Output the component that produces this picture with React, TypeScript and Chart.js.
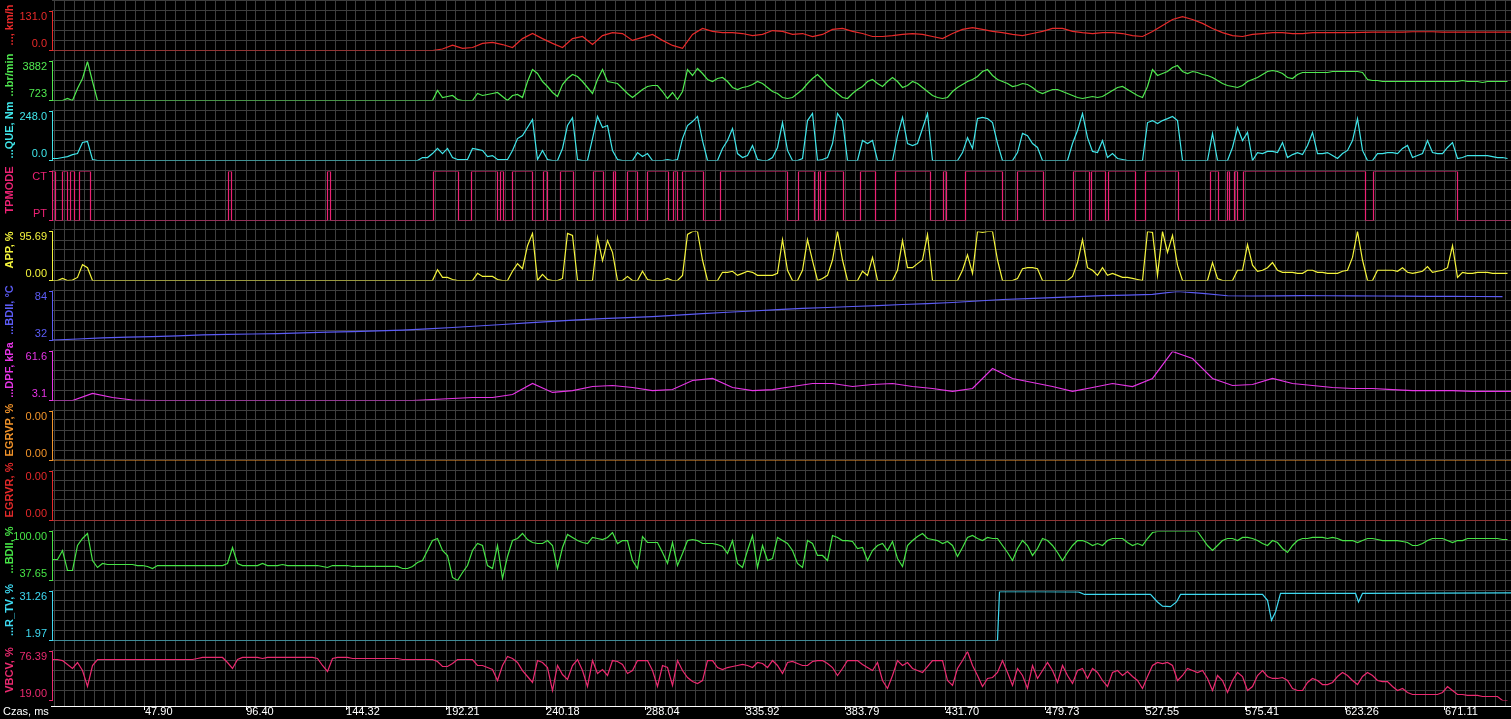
import React, { useEffect, useRef } from 'react';
import { Chart, registerables } from 'chart.js';

Chart.register(...registerables);

// ---------------- time axis ----------------
const T_START = 3.32;
const T_END = 702.76;
const GRID_STEP = 4.794; // one background grid cell, in time units
const GRID_FIRST = T_START + 1.438;
const X_TICK_LABELS = ['47.90', '96.40', '144.32', '192.21', '240.18', '288.04', '335.92', '383.79', '431.70', '479.73', '527.55', '575.41', '623.26', '671.11'];
const X_AXIS_TITLE = 'Czas, ms';

// sample periods of the recorded channels
const DT_FINE = 2.397;
const DT_10 = 4.794;
const DT_20 = 9.588;
const DT_25 = 11.985;

// ---------------- data ----------------
// vehicle speed, km/h (DT_10)
const speedKmh = [
  0, 0, 0, 0, 0, 0, 0, 0, 0, 0, 0, 0, 0, 0, 0, 0, 0, 0, 0, 0,
  0, 0, 0, 0, 0, 0, 0, 0, 0, 0, 0, 0, 0, 0, 0, 0, 0, 0, 0,
  5, 18, 7, 10, 24, 27, 20, 10, 40, 57, 40, 24, 10, 40, 47, 20, 50, 60, 57, 34, 44, 54, 34, 17, 7, 54, 74,
  64, 60, 60, 57, 50, 54, 67, 64, 54, 57, 47, 54, 71, 74, 64, 57, 47, 47, 50, 54, 57, 54, 47, 40, 57, 71, 77, 71, 64, 60,
  54, 50, 57, 64, 74, 74, 64, 60, 57, 60, 60, 57, 50, 47, 64, 84, 104, 114, 104, 91, 74, 60, 50, 47, 54, 57, 60, 60, 57, 57,
  60, 60, 60, 60, 60, 61, 62, 62, 62, 62, 63, 63, 63, 62, 62, 62, 62, 62, 62, 62, 62,
];

// engine speed, rpm (DT_FINE)
const engineRpm = [
  723, 723, 723, 885, 723, 1695, 2505, 3882, 2262, 723, 723, 723, 723, 723, 723, 723, 723, 723, 723, 723,
  723, 723, 723, 723, 723, 723, 723, 723, 723, 723, 723, 723, 723, 723, 723, 723, 723, 723, 723, 723,
  723, 723, 723, 723, 723, 723, 723, 723, 723, 723, 723, 723, 723, 723, 723, 723, 723, 723, 723, 723,
  723, 723, 723, 723, 723, 723, 723, 723, 723, 723, 723, 723, 723, 723, 723, 723, 723, 1533, 966, 1047,
  1128, 804, 723, 723, 723, 1290, 1128, 1209, 1290, 1371, 1047, 723, 1128, 1209, 966, 2262, 3234, 2910, 2262, 1857,
  1371, 1047, 2019, 2505, 2829, 2667, 2262, 1776, 1290, 2424, 3234, 2262, 2181, 2100, 1695, 1290, 966, 1290, 1614, 1857,
  1938, 1938, 1452, 885, 1371, 804, 1452, 3234, 2748, 3315, 2910, 2424, 2262, 2505, 2586, 2262, 1776, 1614, 1776, 1857,
  2019, 2262, 2100, 1776, 1452, 1290, 966, 885, 966, 1290, 1614, 2100, 2505, 2829, 2424, 1938, 1614, 1290, 966, 885,
  1290, 1614, 1857, 2262, 2424, 2100, 1857, 2262, 2586, 2262, 1776, 1938, 2262, 2100, 1776, 1452, 1128, 966, 885, 966,
  1452, 1776, 2019, 2262, 2424, 2667, 3072, 3234, 2748, 2424, 2262, 2100, 1857, 1938, 2100, 2019, 1776, 1452, 1290, 1452,
  1614, 1614, 1452, 1290, 1128, 966, 885, 966, 1047, 966, 1047, 1290, 1533, 1776, 1857, 1614, 1371, 1128, 966, 1857,
  3234, 2748, 2910, 3072, 3396, 3558, 3072, 2910, 3072, 2991, 2829, 2748, 2586, 2343, 2100, 1938, 1857, 1776, 1938, 2262,
  2424, 2586, 2829, 3072, 3153, 3072, 2910, 2586, 2505, 2829, 2991, 2991, 2991, 2991, 2991, 2991, 3072, 3072, 3072, 3072,
  3072, 3072, 2991, 2424, 2343, 2343, 2262, 2262, 2262, 2262, 2262, 2262, 2262, 2262, 2262, 2262, 2262, 2262, 2262, 2262,
  2262, 2262, 2343, 2262, 2262, 2262, 2181, 2262, 2262, 2262, 2262, 2262,
];

// engine torque, Nm (DT_FINE)
const torqueNm = [
  10, 10, 15, 20, 30, 35, 91, 96, 5, 0, 0, 0, 0, 0, 0, 0, 0, 0, 0, 0,
  0, 0, 0, 0, 0, 0, 0, 0, 0, 0, 0, 0, 0, 0, 0, 0, 0, 0, 0, 0,
  0, 0, 0, 0, 0, 0, 0, 0, 0, 0, 0, 0, 0, 0, 0, 0, 0, 0, 0, 0,
  0, 0, 0, 0, 0, 0, 0, 0, 0, 0, 0, 0, 0, 0, 15, 15, 35, 61, 35, 61,
  15, 5, 5, 5, 61, 56, 51, 20, 25, 5, 5, 5, 51, 111, 126, 167, 207, 5, 51, 5,
  0, 0, 61, 177, 217, 5, 0, 0, 111, 223, 167, 177, 51, 5, 0, 0, 0, 40, 20, 35,
  0, 0, 0, 5, 0, 5, 111, 177, 197, 223, 101, 0, 0, 0, 61, 101, 162, 35, 15, 25,
  76, 5, 0, 0, 15, 66, 192, 51, 0, 0, 10, 202, 238, 0, 5, 15, 86, 238, 202, 0,
  0, 0, 101, 86, 101, 0, 0, 0, 0, 126, 218, 86, 76, 86, 162, 238, 0, 0, 0, 0,
  0, 0, 40, 116, 61, 212, 218, 212, 192, 86, 0, 0, 0, 40, 137, 126, 86, 66, 0, 0,
  0, 0, 0, 0, 86, 152, 238, 116, 46, 40, 101, 15, 35, 10, 5, 0, 0, 0, 0, 192,
  202, 187, 202, 212, 223, 202, 0, 0, 0, 0, 0, 0, 137, 0, 0, 0, 66, 167, 101, 142,
  0, 40, 35, 46, 46, 40, 91, 15, 30, 40, 30, 76, 142, 35, 35, 40, 25, 10, 35, 51,
  101, 212, 51, 0, 0, 35, 35, 40, 40, 35, 61, 76, 15, 25, 35, 101, 40, 35, 35, 66,
  91, 10, 15, 25, 25, 25, 25, 25, 20, 15, 15, 10,
];

// torque path mode: 1 = CT, 0 = PT (change points)
const tpModeTimes = [
  3.32, 4.76, 8.11, 10.51, 11.95, 13.87, 16.26, 21.54, 87.69, 89.13, 135.15, 136.59, 185.97, 197.96, 204.19,
  216.65, 218.09, 219.53, 223.84, 233.43, 238.70, 240.62, 246.85, 253.09, 262.67, 267.47, 272.26, 273.22,
  278.97, 283.77, 288.56, 298.63, 301.03, 302.94, 305.34, 315.41, 323.56, 355.68, 360.95, 368.62, 370.54,
  371.50, 373.90, 382.52, 390.67, 397.87, 407.46, 424.23, 430.46, 431.90, 441.01, 458.75, 465.94, 478.40,
  492.79, 500.46, 501.42, 508.13, 509.57, 522.51, 527.30, 543.12, 558.46, 562.30, 566.61, 567.57, 569.97,
  571.41, 574.28, 632.77, 636.61, 676.88, 678.31, 702.76,
];
const tpModeValues = [
  0, 1, 0, 1, 0, 1, 0, 1, 0, 1, 0, 1, 0, 1, 0,
  1, 0, 1, 0, 1, 0, 1, 0, 1, 0, 1, 0, 1,
  0, 1, 0, 1, 0, 1, 0, 1, 0, 1, 0, 1, 0,
  1, 0, 1, 0, 1, 0, 1, 0, 1, 0, 1, 0, 1,
  0, 1, 0, 1, 0, 1, 0, 1, 0, 1, 0, 1, 0,
  1, 0, 1, 0, 1, 0, 0,
];

// accelerator pedal position, % (DT_FINE)
const appPct = [
  0, 0, 4, 0, 1, 6, 31, 25, 0, 0, 0, 0, 0, 0, 0, 0, 0, 0, 0, 0,
  0, 0, 0, 0, 0, 0, 0, 0, 0, 0, 0, 0, 0, 0, 0, 0, 0, 0, 0, 0,
  0, 0, 0, 0, 0, 0, 0, 0, 0, 0, 0, 0, 0, 0, 0, 0, 0, 0, 0, 0,
  0, 0, 0, 0, 0, 0, 0, 0, 0, 0, 0, 0, 0, 0, 0, 0, 0, 21, 6, 6,
  2, 0, 0, 0, 0, 14, 8, 8, 8, 2, 0, 0, 18, 33, 23, 68, 92, 0, 12, 2,
  0, 0, 4, 92, 88, 0, 0, 0, 0, 84, 39, 78, 55, 0, 0, 8, 0, 0, 18, 2,
  0, 0, 0, 4, 0, 0, 10, 90, 95.69, 95.69, 40, 0, 0, 0, 16, 16, 18, 10, 14, 18,
  16, 10, 10, 10, 10, 14, 80, 20, 0, 0, 20, 80, 39, 0, 4, 10, 40, 95.69, 40, 0,
  0, 0, 18, 10, 45, 0, 0, 0, 0, 20, 78, 25, 25, 33, 40, 90, 0, 0, 0, 0,
  0, 0, 20, 50, 14, 95.69, 94, 95.69, 95.69, 40, 0, 0, 0, 4, 23, 25, 25, 23, 0, 0,
  0, 0, 0, 0, 8, 35, 80, 25, 20, 10, 25, 10, 14, 10, 6, 6, 4, 2, 0, 95.69,
  94, 10, 95.69, 55, 88, 30, 0, 0, 0, 0, 0, 0, 35, 4, 0, 0, 0, 20, 20, 70,
  30, 18, 20, 25, 35, 20, 16, 16, 16, 14, 14, 20, 20, 16, 16, 14, 14, 14, 18, 20,
  45, 95.69, 40, 0, 0, 20, 20, 20, 20, 18, 25, 16, 14, 16, 18, 27, 16, 18, 20, 25,
  68, 6, 16, 14, 14, 16, 16, 16, 14, 14, 14, 14,
];

// coolant temperature, degC (DT_25)
const coolantC = [
  32.5, 33.6, 34.7, 35.5, 36.2, 37.0, 37.9, 38.4, 38.9, 39.4,
  40.0, 40.8, 41.5, 42.3, 43.1, 44.4, 45.8, 47.4, 49.0, 50.6,
  52.2, 53.8, 55.3, 56.3, 57.4, 59.0, 60.6, 62.0, 63.3, 64.7,
  66.0, 67.0, 68.1, 69.1, 70.2, 71.2, 72.3, 73.9, 75.5, 76.5,
  77.6, 78.6, 79.7, 80.2, 81.0, 84.0, 82.0, 79.5, 79.2, 79.4,
  79.6, 79.5, 79.4, 79.2, 79.0, 78.9, 78.8, 78.7, 78.6,
];

// DPF differential pressure, kPa (DT_20)
const dpfKpa = [
  3.1, 3.1, 11.5, 6.7, 3.7, 3.1, 3.1, 3.1, 3.1, 3.1,
  3.1, 3.1, 3.1, 3.1, 3.1, 3.1, 3.1, 3.1, 3.1, 4.3,
  5.5, 6.7, 6.7, 10.3, 23.4, 12.7, 15.0, 19.8, 21.0, 18.6,
  15.0, 16.2, 27.0, 29.4, 18.6, 15.0, 16.2, 19.8, 23.4, 23.4,
  19.8, 22.2, 23.4, 19.8, 17.4, 13.9, 17.4, 41.3, 29.4, 24.6,
  19.8, 13.9, 18.6, 23.4, 19.8, 29.4, 61.6, 53.2, 29.4, 21.0,
  22.2, 29.4, 23.4, 21.0, 18.6, 17.4, 17.4, 16.2, 15.0, 15.0,
  15.0, 13.9, 13.9, 13.9,
];

// EGR valve position / request, % (constant)
const egrTimes = [T_START, T_END];
const egrvpPct = [0, 0];
const egrvrPct = [0, 0];

// boost duty, % (DT_FINE)
const boostDutyPct = [
  64.4, 64.4, 75.8, 50.4, 50.4, 82.2, 91.1, 97.5, 63.1, 54.2, 59.3, 58.0, 58.0, 58.0, 58.0, 58.0, 58.0, 56.7, 56.7, 55.5,
  52.9, 56.7, 56.7, 56.7, 56.7, 56.7, 56.7, 56.7, 56.7, 56.7, 56.7, 56.7, 56.7, 56.7, 56.7, 59.3, 79.6, 59.3, 56.7, 56.7,
  56.7, 56.7, 59.3, 56.7, 56.7, 56.7, 58.0, 56.7, 56.7, 56.7, 56.7, 56.7, 56.7, 56.7, 55.5, 54.2, 56.7, 56.7, 56.7, 56.7,
  55.5, 55.5, 55.5, 55.5, 55.5, 55.5, 55.5, 55.5, 55.5, 55.5, 52.9, 52.9, 55.5, 60.6, 63.1, 75.8, 88.5, 91.1, 75.8, 69.5,
  41.5, 37.65, 47.8, 56.7, 75.8, 84.7, 82.2, 56.7, 52.9, 82.2, 40.2, 68.2, 88.5, 91.1, 97.5, 89.8, 86.0, 84.7, 84.7, 88.5,
  82.2, 52.9, 79.6, 96.2, 92.4, 88.5, 86.0, 84.7, 92.4, 91.1, 89.8, 92.4, 98.7, 84.7, 88.5, 88.5, 63.1, 52.9, 93.6, 86.0,
  86.0, 86.0, 73.3, 59.3, 86.0, 56.7, 72.0, 88.5, 89.8, 88.5, 84.7, 84.7, 84.7, 83.4, 80.9, 72.0, 88.5, 59.3, 54.2, 75.8,
  94.9, 54.2, 82.2, 63.1, 65.6, 92.4, 88.5, 84.7, 75.8, 59.3, 54.2, 88.5, 84.7, 69.5, 69.5, 63.1, 94.9, 92.4, 88.5, 88.5,
  87.3, 78.4, 79.6, 63.1, 75.8, 82.2, 84.7, 75.8, 87.3, 65.6, 55.5, 82.2, 88.5, 93.6, 97.5, 91.1, 89.8, 88.5, 84.7, 87.3,
  82.2, 68.2, 79.6, 92.4, 94.9, 91.1, 88.5, 92.4, 91.1, 91.1, 82.2, 73.3, 63.1, 78.4, 88.5, 82.2, 69.5, 78.4, 91.1, 88.5,
  82.2, 73.3, 63.1, 73.3, 82.2, 88.5, 88.5, 86.0, 82.2, 84.7, 82.2, 88.5, 91.1, 91.1, 91.1, 86.0, 82.2, 84.7, 82.2, 91.1,
  98.7, 100, 100, 100, 100, 100, 100, 100, 100, 100, 91.1, 82.2, 75.8, 82.2, 88.5, 91.1, 91.1, 88.5, 92.4, 92.4,
  91.1, 88.5, 84.7, 82.2, 88.5, 86.0, 78.4, 73.3, 82.2, 88.5, 91.1, 91.1, 92.4, 92.4, 92.4, 91.1, 92.4, 91.1, 88.5, 88.5,
  88.5, 86.0, 88.5, 91.1, 91.1, 89.8, 88.5, 88.5, 88.5, 88.5, 87.3, 86.0, 82.2, 82.2, 84.7, 88.5, 91.1, 91.1, 91.1, 88.5,
  86.0, 88.5, 88.5, 91.1, 91.1, 91.1, 91.1, 91.1, 91.1, 91.1, 89.8, 89.8,
];

// turbo vane position, % (change points)
const rtvTimes = [3.32, 456.35, 457.31, 495.18, 498.06, 529.70, 533.06, 535.45, 539.29, 542.17, 544.08, 583.39, 585.79, 587.71, 589.62, 592.02, 627.98, 629.42, 631.33, 702.76];
const rtvPct = [1.97, 1.97, 31.26, 31.0, 29.5, 29.5, 25.0, 22.5, 22.2, 25.0, 29.5, 29.5, 26.0, 14.0, 19.0, 30.1, 30.1, 25.0, 30.1, 30.4];

// bypass control valve, % (DT_FINE)
const vbcvPct = [
  67.0, 67.0, 65.8, 61.2, 56.5, 63.5, 54.1, 35.4, 60.0, 67.0, 67.0, 67.0, 67.0, 67.0, 67.0, 67.0, 67.0, 67.0, 67.0, 67.0,
  67.0, 67.0, 67.0, 67.0, 67.0, 67.0, 67.0, 67.0, 67.0, 68.2, 69.4, 69.4, 69.4, 69.4, 69.4, 63.5, 56.5, 67.0, 69.4, 69.4,
  69.4, 69.4, 68.2, 69.4, 69.4, 69.4, 69.4, 69.4, 69.4, 69.4, 69.4, 69.4, 69.4, 68.2, 60.0, 53.0, 68.2, 69.4, 69.4, 69.4,
  68.2, 68.2, 68.2, 68.2, 68.2, 68.2, 68.2, 68.2, 68.2, 68.2, 67.0, 67.0, 67.0, 67.0, 67.0, 67.0, 67.0, 64.7, 58.8, 58.8,
  62.3, 67.0, 67.0, 67.0, 67.0, 60.0, 60.0, 57.6, 55.3, 42.4, 60.0, 70.5, 68.2, 63.5, 54.1, 47.1, 40.1, 65.8, 63.5, 57.6,
  30.7, 60.0, 49.4, 43.6, 60.0, 67.0, 54.1, 35.4, 65.8, 50.6, 55.3, 48.3, 65.8, 64.7, 61.2, 50.6, 54.1, 65.8, 65.8, 65.8,
  54.1, 35.4, 60.0, 57.6, 36.6, 65.8, 54.1, 45.9, 41.2, 38.9, 42.4, 65.8, 65.8, 57.6, 55.3, 57.6, 58.8, 60.0, 61.2, 60.0,
  57.6, 63.5, 62.3, 57.6, 65.8, 60.0, 50.6, 63.5, 64.7, 62.3, 60.0, 60.0, 64.7, 65.8, 65.8, 62.3, 57.6, 48.3, 56.5, 65.8,
  65.8, 65.8, 61.2, 57.6, 54.1, 63.5, 42.4, 33.1, 48.3, 65.8, 60.0, 63.5, 56.5, 54.1, 51.8, 58.8, 65.8, 65.8, 65.8, 42.4,
  36.6, 56.5, 65.8, 76.39, 60.0, 48.3, 35.4, 44.8, 45.9, 51.8, 65.8, 51.8, 36.6, 56.5, 48.3, 33.1, 60.0, 44.8, 54.1, 63.5,
  54.1, 40.1, 60.0, 48.3, 38.9, 54.1, 56.5, 44.8, 56.5, 51.8, 42.4, 35.4, 51.8, 54.1, 48.3, 52.9, 47.1, 42.4, 33.1, 47.1,
  60.0, 63.5, 62.3, 63.5, 60.0, 42.4, 48.3, 56.5, 54.1, 51.8, 54.1, 44.8, 30.7, 48.3, 42.4, 28.4, 42.4, 51.8, 47.1, 30.7,
  35.4, 48.3, 54.1, 47.1, 44.8, 44.8, 45.9, 42.4, 33.1, 30.7, 30.7, 40.1, 44.8, 42.4, 37.7, 37.7, 40.1, 47.1, 51.8, 48.3,
  42.4, 37.7, 47.1, 51.8, 48.3, 42.4, 41.2, 41.2, 35.4, 30.7, 33.1, 28.4, 26.0, 26.0, 26.0, 26.0, 26.0, 26.0, 28.4, 35.4,
  30.7, 26.0, 26.0, 24.9, 24.9, 24.9, 23.7, 23.7, 23.7, 23.7, 19.0, 19.0,
];

// ---------------- panels ----------------
const PANEL_TITLES = ['..., km/h', '...br/min', '...QUE, Nm', 'TPMODE', 'APP, %', '...BDII, °C', '...DPF, kPa', 'EGRVP, %', 'EGRVR, %', '...BDII, %', '...R_TV, %', 'VBCV, %'];
const AXIS_MIN = [0, 723, 0, 0, 0, 32, 3.1, 0, 0, 37.65, 1.97, 19];
const AXIS_MAX = [131, 3882, 248, 1, 95.69, 84, 61.6, 0, 0, 100, 31.26, 76.39];
const AXIS_DECIMALS = [1, 0, 1, 0, 2, 0, 1, 2, 2, 2, 2, 2];
const TPMODE_STATES = ['PT', 'CT'];

const PANEL_COLORS = ['#e82a2a', '#50ea50', '#40e6ea', '#ec2274', '#f4f43c', '#5c5cf6', '#e634e6', '#f4942a', '#e62a2a', '#46e446', '#3edaf2', '#ec2a70'];
const PANEL_HEIGHTS = [39, 39, 49, 49, 49, 49, 49, 49, 49, 49, 49, 49];
const PANEL_GAP = 11;
const BOTTOM_GAP = 6;
const GRID_COLOR = '#3e3e3e';
const FONT = 'Liberation Sans';

const uniform = (vals: number[], step: number) => vals.map((v, i) => ({ x: T_START + i * step, y: v }));
const paired = (ts: number[], vs: number[]) => ts.map((t, i) => ({ x: t, y: vs[i] }));

const SERIES = [
  uniform(speedKmh, DT_10),
  uniform(engineRpm, DT_FINE),
  uniform(torqueNm, DT_FINE),
  paired(tpModeTimes, tpModeValues),
  uniform(appPct, DT_FINE),
  uniform(coolantC, DT_25),
  uniform(dpfKpa, DT_20),
  paired(egrTimes, egrvpPct),
  paired(egrTimes, egrvrPct),
  uniform(boostDutyPct, DT_FINE),
  paired(rtvTimes, rtvPct),
  uniform(vbcvPct, DT_FINE),
];

function axisLabel(i: number, which: 0 | 1): string {
  if (i === 3) return TPMODE_STATES[which];
  const v = which === 0 ? AXIS_MIN[i] : AXIS_MAX[i];
  return v.toFixed(AXIS_DECIMALS[i]);
}

function buildScales() {
  const scales: any = {};
  scales.x = {
    type: 'linear',
    position: 'bottom',
    min: T_START,
    max: T_END,
    afterBuildTicks: (s: any) => {
      const labelled = X_TICK_LABELS.map((l) => ({ value: Number(l), lab: l }));
      const ticks: any[] = [];
      for (let t = GRID_FIRST; t <= T_END; t += GRID_STEP) {
        if (labelled.some((l) => Math.abs(l.value - t) < GRID_STEP / 2)) continue;
        ticks.push({ value: t });
      }
      s.ticks = ticks.concat(labelled).sort((a, b) => a.value - b.value);
    },
    afterFit: (s: any) => {
      s.height = 13;
      s.paddingLeft = 0;
      s.paddingRight = 0;
    },
    ticks: {
      autoSkip: false,
      maxRotation: 0,
      minRotation: 0,
      align: 'start',
      color: '#ffffff',
      padding: -5,
      font: { family: FONT, size: 11 },
      callback: (_v: any, i: number, ticks: any[]) => ticks[i].lab || '',
    },
    grid: {
      color: GRID_COLOR,
      drawTicks: true,
      tickLength: 4,
      tickColor: (ctx: any) => (ctx.tick && ctx.tick.lab ? '#ffffff' : 'rgba(0,0,0,0)'),
    },
    border: { display: true, color: '#ffffff', width: 1 },
  };
  scales.gridY = {
    type: 'linear',
    position: 'right',
    min: 0,
    max: 706,
    reverse: true,
    ticks: { display: false, stepSize: 10 },
    grid: { color: GRID_COLOR, drawTicks: false },
    border: { display: false },
    afterFit: (s: any) => { s.width = 0; },
  };
  const spacer = (h: number, w: number) => ({
    type: 'linear',
    position: 'left',
    stack: 'panels',
    stackWeight: h,
    weight: w,
    ticks: { display: false },
    grid: { display: false },
    border: { display: false },
    afterFit: (s: any) => { s.width = 0; s.paddingTop = 0; s.paddingBottom = 0; },
  });
  let w = 1000;
  for (let i = 0; i < 12; i++) {
    const color = PANEL_COLORS[i];
    scales['gap' + i] = spacer(PANEL_GAP, w--);
    scales['y' + i] = {
      type: 'linear',
      position: 'left',
      stack: 'panels',
      stackWeight: PANEL_HEIGHTS[i],
      weight: w--,
      min: AXIS_MIN[i],
      max: AXIS_MAX[i] > AXIS_MIN[i] ? AXIS_MAX[i] : AXIS_MIN[i] + 1,
      afterBuildTicks: (s: any) => {
        s.ticks = [{ value: s.min }, { value: s.max }];
      },
      afterFit: (s: any) => {
        s.width = 52;
        s.paddingTop = 0;
        s.paddingBottom = 0;
      },
      ticks: {
        autoSkip: false,
        color,
        padding: 2,
        font: { family: FONT, size: 11, lineHeight: 1.1 },
        callback: (_v: any, idx: number) => (idx === 0 ? [axisLabel(i, 0), ''] : ['', axisLabel(i, 1)]),
      },
      grid: { display: true, drawOnChartArea: false, drawTicks: true, tickLength: 3, color, tickColor: color },
      border: { display: true, color, width: 1 },
    };
  }
  scales.gapEnd = spacer(BOTTOM_GAP, w--);
  return scales;
}

// shift the traces half a pixel so flat segments land on pixel rows
const crispLines = {
  id: 'crispLines',
  beforeDatasetsDraw(chart: any) {
    chart.ctx.save();
    chart.ctx.translate(0.5, 0.5);
  },
  afterDatasetsDraw(chart: any) {
    chart.ctx.restore();
  },
};

const panelTitles = {
  id: 'panelTitles',
  afterDraw(chart: any) {
    const ctx = chart.ctx as CanvasRenderingContext2D;
    ctx.save();
    ctx.font = `bold 11px "${FONT}"`;
    ctx.textAlign = 'center';
    ctx.textBaseline = 'middle';
    for (let i = 0; i < 12; i++) {
      const gap = chart.scales['gap' + i];
      const ax = chart.scales['y' + i];
      const cy = (gap.top + ax.bottom) / 2;
      ctx.save();
      ctx.translate(9.5, cy);
      ctx.rotate(-Math.PI / 2);
      ctx.fillStyle = PANEL_COLORS[i];
      ctx.fillText(PANEL_TITLES[i], 0, 0);
      ctx.restore();
    }
    ctx.font = `11px "${FONT}"`;
    ctx.textAlign = 'left';
    ctx.fillStyle = '#ffffff';
    ctx.fillText(X_AXIS_TITLE, 3, chart.chartArea.bottom + 6);
    ctx.restore();
  },
};

export default function App() {
  const ref = useRef<HTMLCanvasElement>(null);
  useEffect(() => {
    document.body.style.margin = '0';
    document.body.style.background = '#000';
    document.body.style.overflow = 'hidden';
    const datasets = SERIES.map((data, i) => ({
      label: PANEL_TITLES[i],
      data,
      xAxisID: 'x',
      yAxisID: 'y' + i,
      borderColor: PANEL_COLORS[i],
      backgroundColor: PANEL_COLORS[i],
      borderWidth: 1.2,
      pointRadius: 0,
      tension: 0,
      fill: false,
      stepped: i === 3 ? 'after' : false,
    }));
    const chart = new Chart(ref.current as HTMLCanvasElement, {
      type: 'line',
      data: { datasets } as any,
      options: {
        animation: false,
        responsive: false,
        maintainAspectRatio: false,
        devicePixelRatio: 1,
        events: [],
        layout: { padding: 0 },
        plugins: { legend: { display: false }, tooltip: { enabled: false }, title: { display: false } },
        scales: buildScales(),
      } as any,
      plugins: [crispLines, panelTitles],
    });
    return () => chart.destroy();
  }, []);
  return (
    <div style={{ width: 1511, height: 719, background: '#000' }}>
      <canvas ref={ref} width={1511} height={719} style={{ display: 'block', width: 1511, height: 719 }} />
    </div>
  );
}
